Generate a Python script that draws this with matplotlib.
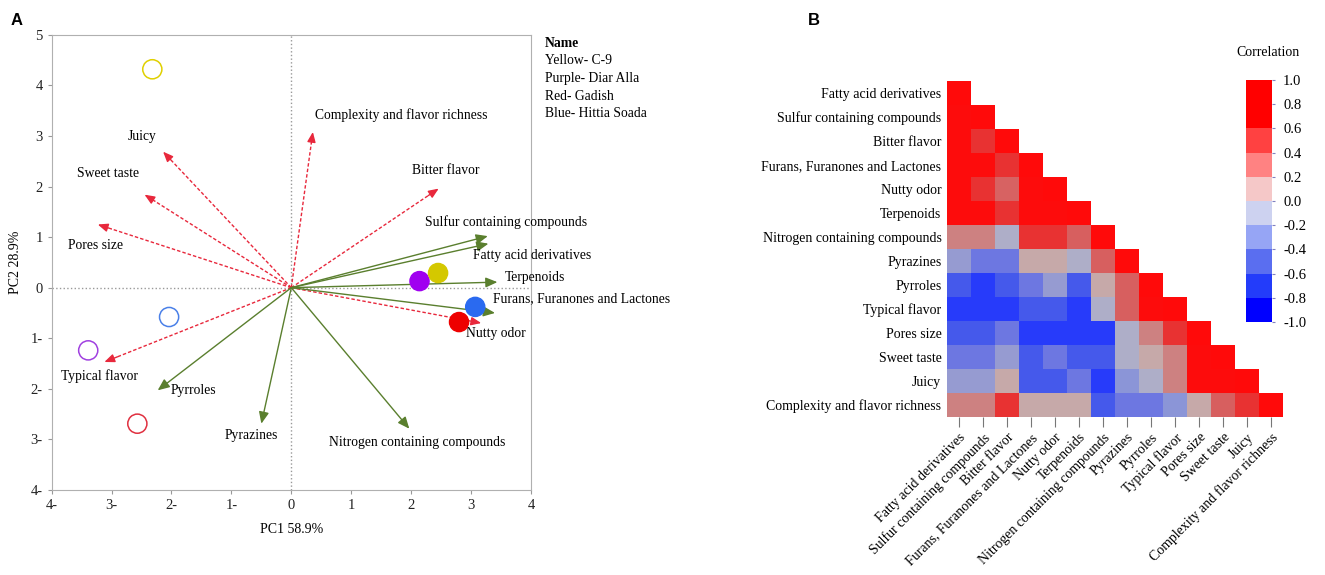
import numpy as np
import matplotlib
matplotlib.use('Agg')
import matplotlib.pyplot as plt
from matplotlib.colors import LinearSegmentedColormap, ListedColormap, BoundaryNorm
from matplotlib.cm import ScalarMappable

plt.rcParams['font.family'] = ['Liberation Serif', 'DejaVu Serif']

# ---------------- panel A data (biplot) ----------------
sensory = ['Juicy', 'Sweet taste', 'Pores size', 'Complexity and flavor richness',
           'Bitter flavor', 'Typical flavor', 'Nutty odor']
sensory_x = [-2.14, -2.45, -3.23, 0.36, 2.46, -3.12, 3.17]
sensory_y = [2.69, 1.84, 1.25, 3.08, 1.96, -1.47, -0.70]
sensory_lx = [-2.73, -3.57, -3.72, 0.40, 2.02, -3.85, 2.92]
sensory_ly = [3.00, 2.26, 0.84, 3.41, 2.32, -1.74, -0.91]

compounds = ['Sulfur containing compounds', 'Fatty acid derivatives', 'Terpenoids',
             'Furans, Furanones and Lactones', 'Nitrogen containing compounds',
             'Pyrazines', 'Pyrroles']
comp_x = [3.28, 3.29, 3.44, 3.40, 1.97, -0.50, -2.23]
comp_y = [1.02, 0.87, 0.11, -0.50, -2.79, -2.69, -2.03]
comp_lx = [2.23, 3.04, 3.56, 3.36, 0.63, -1.11, -2.01]
comp_ly = [1.30, 0.64, 0.20, -0.22, -3.06, -2.92, -2.03]

# samples: filled = one group, open = other group
filled_x = [2.14, 2.45, 3.07, 2.80]
filled_y = [0.13, 0.29, -0.38, -0.68]
filled_c = ['#a000f0', '#d4c800', '#2a6af0', '#ee0000']
open_x = [-2.32, -2.04, -3.39, -2.57]
open_y = [4.32, -0.58, -1.24, -2.69]
open_c = ['#e0d000', '#4a80e8', '#a040e0', '#e03040']

legend_lines = ['Yellow- C-9', 'Purple- Diar Alla', 'Red- Gadish', 'Blue- Hittia Soada']

# ---------------- panel B data (correlation) ----------------
names = ['Fatty acid derivatives', 'Sulfur containing compounds', 'Bitter flavor',
         'Furans, Furanones and Lactones', 'Nutty odor', 'Terpenoids',
         'Nitrogen containing compounds', 'Pyrazines', 'Pyrroles', 'Typical flavor',
         'Pores size', 'Sweet taste', 'Juicy', 'Complexity and flavor richness']
corr_rows = [
    [1],
    [0.95, 1],
    [0.95, 0.75, 1],
    [0.95, 0.95, 0.75, 1],
    [0.95, 0.75, 0.58, 0.95, 1],
    [0.95, 0.95, 0.75, 0.95, 0.95, 1],
    [0.4, 0.4, -0.15, 0.75, 0.75, 0.6, 1],
    [-0.35, -0.55, -0.55, 0.15, 0.15, -0.15, 0.6, 1],
    [-0.7, -0.9, -0.7, -0.55, -0.35, -0.7, 0.15, 0.6, 1],
    [-0.9, -0.9, -0.9, -0.7, -0.7, -0.9, -0.15, 0.6, 0.95, 1],
    [-0.7, -0.7, -0.55, -0.9, -0.9, -0.9, -0.9, -0.15, 0.4, 0.75, 1],
    [-0.55, -0.55, -0.35, -0.7, -0.55, -0.7, -0.7, -0.15, 0.15, 0.4, 0.95, 1],
    [-0.35, -0.35, 0.15, -0.7, -0.7, -0.55, -0.9, -0.4, -0.15, 0.4, 0.95, 0.95, 1],
    [0.4, 0.4, 0.75, 0.15, 0.15, 0.15, -0.7, -0.55, -0.55, -0.4, 0.15, 0.6, 0.75, 1],
]
cbar_ticks = [-1.0, -0.8, -0.6, -0.4, -0.2, 0.0, 0.2, 0.4, 0.6, 0.8, 1.0]

fig = plt.figure(figsize=(13.25, 5.75), dpi=100)

# ======================= A =======================
ax = fig.add_axes([0.039, 0.148, 0.3617, 0.7913])
ax.set_xlim(-4, 4)
ax.set_ylim(-4, 5)
for s in ax.spines.values():
    s.set_color('#b0b0b0')
ax.axhline(0, color='#999999', ls=':', lw=1)
ax.axvline(0, color='#999999', ls=':', lw=1)

red = '#e8283c'
green = '#5a7f2e'
for x, y in zip(sensory_x, sensory_y):
    ax.plot([0, x * 0.93], [0, y * 0.93], color=red, ls='--', lw=1, dashes=(2.5, 1.5))
    ax.annotate('', xy=(x, y), xytext=(x * 0.93, y * 0.93),
                arrowprops=dict(arrowstyle='-|>,head_length=0.6,head_width=0.25',
                                color=red, lw=1, shrinkA=0, shrinkB=0))
for x, y in zip(comp_x, comp_y):
    ax.annotate('', xy=(x, y), xytext=(0, 0),
                arrowprops=dict(arrowstyle='-|>,head_length=0.7,head_width=0.3',
                                color=green, lw=1, shrinkA=0, shrinkB=0))

for t, x, y in zip(sensory, sensory_lx, sensory_ly):
    ax.text(x, y, t, fontsize=9.8, ha='left', va='center')
for t, x, y in zip(compounds, comp_lx, comp_ly):
    ax.text(x, y, t, fontsize=9.8, ha='left', va='center')

ax.scatter(filled_x, filled_y, s=190, c=filled_c, zorder=5)
ax.scatter(open_x, open_y, s=190, facecolors='none', edgecolors=open_c, lw=1.1, zorder=5)

xt = np.arange(-4, 5)
yt = np.arange(-4, 6)
ax.set_xticks(xt)
ax.set_xticklabels([f'{abs(v)}-' if v < 0 else str(v) for v in xt])
ax.set_yticks(yt)
ax.set_yticklabels([f'{abs(v)}-' if v < 0 else str(v) for v in yt])
ax.tick_params(direction='out', length=3, color='#999999', labelsize=10.5, labelcolor='#222222')
ax.set_xlabel('PC1 58.9%', fontsize=10, labelpad=8)
ax.set_ylabel('PC2 28.9%', fontsize=10, labelpad=6)

fig.text(0.411, 0.925, 'Name', fontsize=9.8, fontweight='bold', va='center')
for i, t in enumerate(legend_lines):
    fig.text(0.411, 0.894 - i * 0.0305, t, fontsize=9.8, va='center')

fig.text(0.008, 0.965, 'A', fontsize=12, fontweight='bold', family='Liberation Sans', va='center')
fig.text(0.610, 0.965, 'B', fontsize=12, fontweight='bold', family='Liberation Sans', va='center')

# ======================= B =======================
n = len(names)
mat = np.full((n, n), np.nan)
for i, row in enumerate(corr_rows):
    mat[i, :len(row)] = row
mat = np.ma.masked_invalid(mat)

cell_cmap = LinearSegmentedColormap.from_list('cellmap', [
    (0.00, (30/255, 45/255, 1.0)),
    (0.05, (40/255, 60/255, 250/255)),
    (0.15, (70/255, 90/255, 235/255)),
    (0.225, (110/255, 120/255, 225/255)),
    (0.30, (140/255, 150/255, 215/255)),
    (0.325, (150/255, 155/255, 210/255)),
    (0.425, (175/255, 175/255, 200/255)),
    (0.50, (188/255, 172/255, 185/255)),
    (0.575, (198/255, 170/255, 170/255)),
    (0.70, (205/255, 130/255, 130/255)),
    (0.79, (215/255, 100/255, 100/255)),
    (0.80, (215/255, 95/255, 95/255)),
    (0.875, (232/255, 52/255, 52/255)),
    (0.95, (252/255, 15/255, 15/255)),
    (1.00, (1.0, 10/255, 10/255)),
])

axh = fig.add_axes([947/1325, 1 - 417/575, 336/1325, 336/575])
axh.imshow(mat, cmap=cell_cmap, vmin=-1, vmax=1, aspect='auto', interpolation='nearest')
for s in axh.spines.values():
    s.set_visible(False)
axh.set_xticks(np.arange(n))
axh.set_xticklabels(names, rotation=45, ha='right', rotation_mode='anchor', fontsize=10)
axh.set_yticks(np.arange(n))
axh.set_yticklabels(names, fontsize=10)
axh.tick_params(axis='y', length=0, pad=4)
axh.tick_params(axis='x', length=7, color='#777777', pad=3)

cb_colors = [(0, 0, 1), (35/255, 60/255, 250/255), (90/255, 110/255, 240/255),
             (150/255, 165/255, 245/255), (205/255, 210/255, 240/255),
             (245/255, 200/255, 200/255), (1, 130/255, 130/255), (1, 65/255, 65/255),
             (1, 0, 0), (1, 0, 0)]
cb_norm = BoundaryNorm(cbar_ticks, len(cb_colors))
cax = fig.add_axes([1246/1325, 1 - 322/575, 26/1325, 242/575])
cb = fig.colorbar(ScalarMappable(norm=cb_norm, cmap=ListedColormap(cb_colors)), cax=cax,
                  ticks=cbar_ticks)
cb.outline.set_visible(False)
cb.ax.set_yticklabels([f'{v:.1f}' for v in cbar_ticks])
cb.ax.tick_params(labelsize=10.5, length=2, color='#8080c0', pad=6)
fig.text(1268/1325, 1 - 52/575, 'Correlation', fontsize=10, ha='center', va='center')

fig.savefig('out.png', dpi=100)
